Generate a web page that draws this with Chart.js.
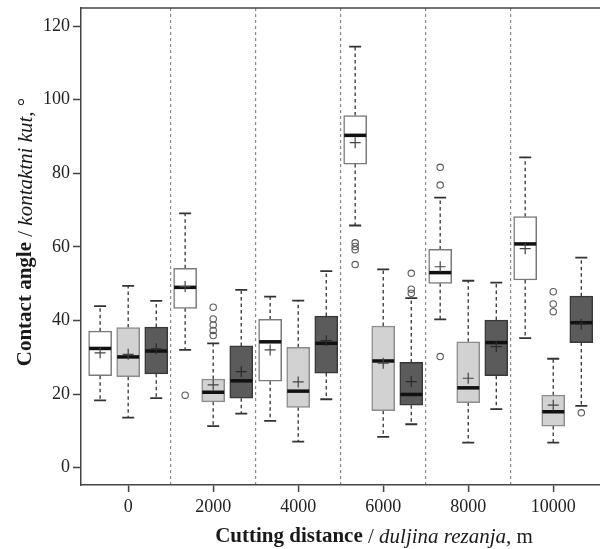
<!DOCTYPE html>
<html>
<head>
<meta charset="utf-8">
<script src="https://cdn.jsdelivr.net/npm/chart.js@4/dist/chart.umd.min.js"></script>
<style>
  html, body { margin: 0; padding: 0; background: #fff; }
  #wrap { width: 600px; height: 549px; }
</style>
</head>
<body>
<div id="wrap"><canvas id="boxchart"></canvas></div>
<script>
// cutting distance, m
const distances = [0, 2000, 4000, 6000, 8000, 10000];

// white boxes
const whiteLow    = [18.3, 32.0, 12.7, 65.8, 40.3, 35.2];
const whiteQ1     = [25.0, 43.3, 23.5, 82.5, 50.1, 51.0];
const whiteMedian = [32.4, 49.0, 34.2, 90.3, 53.0, 60.8];
const whiteQ3     = [37.1, 54.2, 40.3, 95.7, 59.3, 68.2];
const whiteHigh   = [43.9, 69.1, 46.5, 114.4, 73.4, 84.3];
const whiteMean   = [31.2, 49.2, 32.0, 88.3, 54.6, 59.5];
const whiteOut    = [[], [19.7], [], [61.1, 60.1, 59.2, 55.2], [81.6, 76.8, 30.2], []];

// light grey boxes
const greyLow    = [13.6, 11.3, 7.1, 8.4, 6.8, 6.8];
const greyQ1     = [24.7, 17.9, 16.4, 15.5, 17.7, 11.3];
const greyMedian = [30.1, 20.5, 20.8, 29.0, 21.7, 15.2];
const greyQ3     = [38.1, 24.1, 32.7, 38.5, 34.2, 19.7];
const greyHigh   = [49.4, 33.8, 45.4, 53.9, 50.8, 29.6];
const greyMean   = [30.8, 22.5, 23.3, 28.4, 24.3, 17.0];
const greyOut    = [[], [43.6, 40.4, 38.8, 37.3, 35.9], [], [], [], [47.8, 44.5, 42.4]];

// dark boxes
const darkLow    = [18.9, 14.7, 18.6, 11.8, 15.9, 16.8];
const darkQ1     = [25.5, 18.9, 25.7, 17.0, 25.0, 34.0];
const darkMedian = [31.7, 23.6, 33.8, 19.9, 34.0, 39.4];
const darkQ3     = [38.2, 33.1, 41.2, 28.6, 40.1, 46.6];
const darkHigh   = [45.3, 48.3, 53.4, 46.1, 50.3, 57.1];
const darkMean   = [32.3, 26.1, 34.5, 23.4, 32.9, 39.0];
const darkOut    = [[], [], [], [52.8, 48.5, 47.4], [], [14.9]];

const yTicks = [0, 20, 40, 60, 80, 100, 120];
const xTicks = [-1000, 0, 1000, 2000, 3000, 4000, 5000, 6000, 7000, 8000, 9000, 10000, 11000];

// offset of each box from its group centre (x units)
const shift = [-660, 0, 660];

const series = [
  { low: whiteLow, q1: whiteQ1, med: whiteMedian, q3: whiteQ3, high: whiteHigh, mean: whiteMean, out: whiteOut,
    fill: '#ffffff', border: '#7a7a7a' },
  { low: greyLow, q1: greyQ1, med: greyMedian, q3: greyQ3, high: greyHigh, mean: greyMean, out: greyOut,
    fill: '#d2d2d2', border: '#8c8c8c' },
  { low: darkLow, q1: darkQ1, med: darkMedian, q3: darkQ3, high: darkHigh, mean: darkMean, out: darkOut,
    fill: '#5b5b5b', border: '#383838' }
];

const serif = "'Liberation Serif', 'DejaVu Serif', serif";

var datasets = [];

// boxes as floating bars
series.forEach(function (s, k) {
  datasets.push({
    type: 'bar',
    order: 3,
    data: distances.map(function (d, i) { return { x: d + shift[k], y: [s.q1[i], s.q3[i]] }; }),
    backgroundColor: s.fill,
    borderColor: s.border,
    borderWidth: 1.5,
    borderSkipped: false,
    barThickness: 23,
    grouped: false
  });
});

// outliers
series.forEach(function (s, k) {
  var pts = [];
  distances.forEach(function (d, i) {
    s.out[i].forEach(function (v) { pts.push({ x: d + shift[k], y: v }); });
  });
  datasets.push({
    type: 'scatter',
    order: 2,
    data: pts,
    pointStyle: 'circle',
    pointRadius: 3.2,
    pointBackgroundColor: 'rgba(255,255,255,0)',
    pointBorderColor: '#5a5a5a',
    pointBorderWidth: 1.1
  });
});

// means
series.forEach(function (s, k) {
  datasets.push({
    type: 'scatter',
    order: 1,
    data: distances.map(function (d, i) { return { x: d + shift[k], y: s.mean[i] }; }),
    pointStyle: 'cross',
    pointRadius: 5.5,
    pointBorderColor: k === 2 ? '#2a2a2a' : '#444',
    pointBorderWidth: 1.2
  });
});

// whiskers (under the boxes) and medians (on top of the boxes)
const boxPlotPlugin = {
  id: 'boxPlotPlugin',
  beforeDatasetsDraw: function (chart) {
    var ctx = chart.ctx, xs = chart.scales.x, ys = chart.scales.y;
    ctx.save();
    series.forEach(function (s, k) {
      distances.forEach(function (d, i) {
        var px = xs.getPixelForValue(d + shift[k]);
        ctx.strokeStyle = '#333';
        ctx.lineWidth = 1.3;
        ctx.setLineDash([3.5, 3]);
        ctx.beginPath();
        ctx.moveTo(px, ys.getPixelForValue(s.q3[i]));
        ctx.lineTo(px, ys.getPixelForValue(s.high[i]));
        ctx.moveTo(px, ys.getPixelForValue(s.q1[i]));
        ctx.lineTo(px, ys.getPixelForValue(s.low[i]));
        ctx.stroke();
        ctx.setLineDash([]);
        ctx.lineWidth = 1.8;
        ctx.beginPath();
        ctx.moveTo(px - 6, ys.getPixelForValue(s.high[i]));
        ctx.lineTo(px + 6, ys.getPixelForValue(s.high[i]));
        ctx.moveTo(px - 6, ys.getPixelForValue(s.low[i]));
        ctx.lineTo(px + 6, ys.getPixelForValue(s.low[i]));
        ctx.stroke();
      });
    });
    ctx.restore();
  },
  afterDatasetDraw: function (chart, args) {
    if (args.index > 2) return;
    var s = series[args.index];
    var ctx = chart.ctx, ys = chart.scales.y;
    ctx.save();
    ctx.strokeStyle = '#111';
    ctx.lineWidth = 3.5;
    args.meta.data.forEach(function (bar, i) {
      var py = ys.getPixelForValue(s.med[i]);
      ctx.beginPath();
      ctx.moveTo(bar.x - bar.width / 2 + 0.5, py);
      ctx.lineTo(bar.x + bar.width / 2 - 0.5, py);
      ctx.stroke();
    });
    ctx.restore();
  },
  afterDraw: function (chart) {
    var ctx = chart.ctx, a = chart.chartArea;
    ctx.save();
    // top frame line
    ctx.strokeStyle = '#444';
    ctx.lineWidth = 1.5;
    ctx.beginPath();
    ctx.moveTo(a.left, a.top);
    ctx.lineTo(a.right, a.top);
    ctx.stroke();

    // axis titles with mixed bold / italic parts
    var xTitle = [
      { t: 'Cutting distance', f: 'bold 21px ' + serif },
      { t: ' / ', f: '21px ' + serif },
      { t: 'duljina rezanja', f: 'italic 21px ' + serif },
      { t: ', m', f: '21px ' + serif }
    ];
    var yTitle = [
      { t: 'Contact angle', f: 'bold 21px ' + serif },
      { t: ' / ', f: '21px ' + serif },
      { t: 'kontaktni kut,', f: 'italic 21px ' + serif },
      { t: ' \u00B0', f: '21px ' + serif }
    ];
    drawRich(ctx, xTitle, 374, 537, 0);
    drawRich(ctx, yTitle, 26, 232, -Math.PI / 2);
    ctx.restore();
  }
};

function drawRich(ctx, parts, cx, cy, angle) {
  ctx.save();
  ctx.translate(cx, cy);
  ctx.rotate(angle);
  ctx.fillStyle = '#1a1a1a';
  ctx.textBaseline = 'middle';
  ctx.textAlign = 'left';
  var total = 0;
  parts.forEach(function (p) { ctx.font = p.f; total += ctx.measureText(p.t).width; });
  var x = -total / 2;
  parts.forEach(function (p) {
    ctx.font = p.f;
    ctx.fillText(p.t, x, 0);
    x += ctx.measureText(p.t).width;
  });
  ctx.restore();
}

function isLabelTick(v) { return v >= 0 && v <= 10000 && v % 2000 === 0; }
function isDividerTick(v) { return v > 0 && v < 10000 && v % 2000 === 1000; }

var ctx = document.getElementById('boxchart').getContext('2d');
var boxChart = new Chart(ctx, {
  type: 'scatter',
  data: { datasets: datasets },
  plugins: [boxPlotPlugin],
  options: {
    responsive: true,
    maintainAspectRatio: false,
    animation: false,
    events: [],
    layout: { autoPadding: false, padding: { top: 8, right: 0, bottom: 0, left: 0 } },
    plugins: {
      legend: { display: false },
      tooltip: { enabled: false }
    },
    scales: {
      x: {
        type: 'linear',
        min: -1110,
        max: 11100,
        offset: false,
        afterFit: function (scale) {
          scale.height = 64;
          scale.paddingLeft = 0;
          scale.paddingRight = 0;
        },
        afterBuildTicks: function (scale) {
          scale.ticks = xTicks.map(function (v) { return { value: v }; });
        },
        ticks: {
          autoSkip: false,
          maxRotation: 0,
          padding: 4,
          color: '#222',
          font: { family: serif, size: 18 },
          callback: function (v) { return isLabelTick(v) ? String(v) : ''; }
        },
        grid: {
          offset: false,
          drawOnChartArea: true,
          drawTicks: true,
          tickLength: 7,
          lineWidth: 1.2,
          tickWidth: 1.5,
          color: function (c) { return c.tick && isDividerTick(c.tick.value) ? '#8a8a8a' : 'rgba(0,0,0,0)'; },
          tickColor: function (c) { return c.tick && isLabelTick(c.tick.value) ? '#444' : 'rgba(0,0,0,0)'; }
        },
        border: { display: true, color: '#444', width: 1.5, dash: [3, 3] }
      },
      y: {
        min: -4.7,
        max: 124.9,
        afterFit: function (scale) {
          scale.width = 81;
          scale.paddingTop = 0;
          scale.paddingBottom = 0;
        },
        afterBuildTicks: function (scale) {
          scale.ticks = yTicks.map(function (v) { return { value: v }; });
        },
        ticks: {
          padding: 3,
          color: '#222',
          font: { family: serif, size: 18 }
        },
        grid: {
          drawOnChartArea: false,
          drawTicks: true,
          tickLength: 8,
          tickWidth: 1.5,
          tickColor: '#444'
        },
        border: { display: true, color: '#444', width: 1.5 }
      }
    }
  }
});
</script>
</body>
</html>
